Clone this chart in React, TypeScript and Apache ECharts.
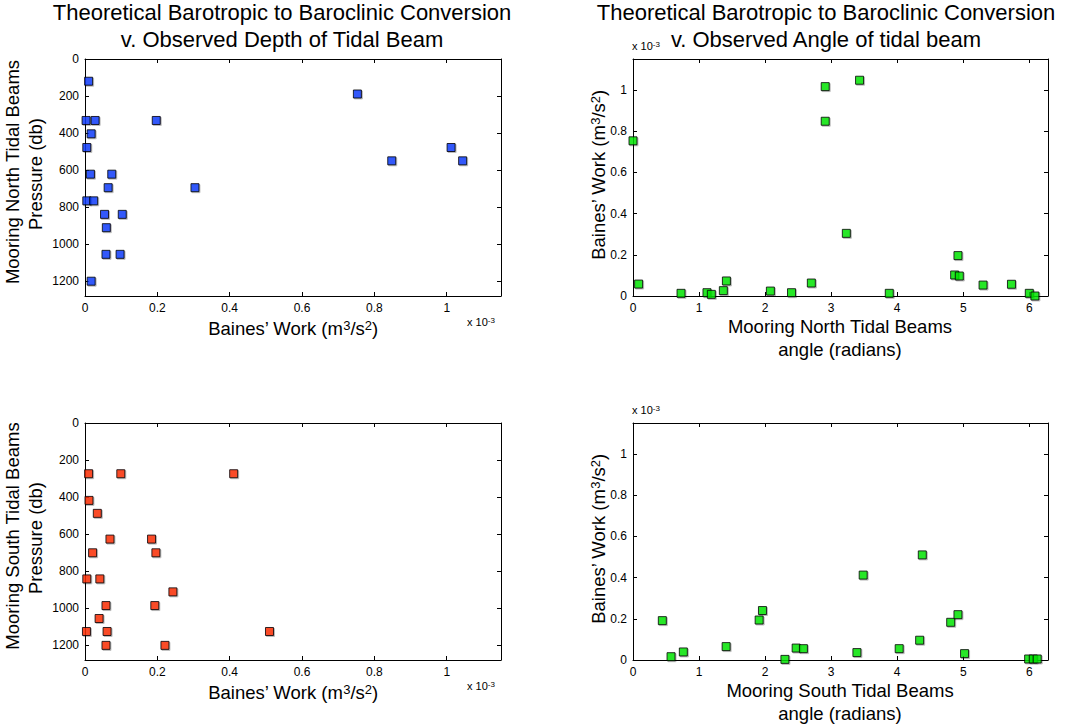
import React, { useEffect, useRef } from "react";
import * as echarts from "echarts";

// Mooring North: Baines' work (x 1e-3 m^3/s^2) vs pressure (db)
const northDepthWork = [0.010, 0.003, 0.028, 0.197, 0.017, 0.005, 0.015, 0.074, 0.064, 0.304, 0.005, 0.024, 0.054, 0.103, 0.059, 0.058, 0.097, 0.017, 0.753, 1.012, 0.848, 1.044];
const northDepth = [120, 332, 332, 332, 404, 478, 622, 622, 695, 695, 766, 766, 839, 839, 911, 1055, 1055, 1200, 189, 478, 550, 550];

// Mooring North: beam angle (radians) vs Baines' work (x 1e-3)
const northAngle = [0.0, 0.085, 0.727, 1.12, 1.186, 1.368, 1.414, 2.08, 2.40, 2.70, 2.91, 2.91, 3.23, 3.43, 3.88, 4.92, 4.87, 4.94, 5.30, 5.73, 6.0, 6.085];
const northAngleWork = [0.753, 0.058, 0.013, 0.016, 0.008, 0.026, 0.073, 0.024, 0.016, 0.063, 1.016, 0.848, 0.304, 1.047, 0.013, 0.196, 0.102, 0.097, 0.053, 0.057, 0.013, 0.0];

// Mooring South: Baines' work (x 1e-3) vs pressure (db)
const southDepthWork = [0.010, 0.099, 0.411, 0.011, 0.034, 0.069, 0.184, 0.021, 0.196, 0.005, 0.041, 0.243, 0.058, 0.193, 0.039, 0.004, 0.061, 0.510, 0.058, 0.221];
const southDepth = [274, 274, 274, 418, 488, 627, 627, 701, 701, 842, 842, 912, 986, 986, 1056, 1126, 1126, 1126, 1201, 1201];

// Mooring South: beam angle (radians) vs Baines' work (x 1e-3)
const southAngle = [0.444, 0.576, 0.762, 1.41, 1.91, 1.96, 2.30, 2.47, 2.58, 3.39, 3.485, 4.38, 4.34, 4.03, 4.81, 4.92, 5.02, 5.99, 6.06, 6.12];
const southAngleWork = [0.191, 0.016, 0.039, 0.065, 0.194, 0.240, 0.003, 0.058, 0.055, 0.036, 0.412, 0.510, 0.096, 0.055, 0.183, 0.220, 0.031, 0.005, 0.005, 0.005];

const workTicks = { min: 0, max: 1.15, interval: 0.2 };
const depthTicks = { min: 0, max: 1280, interval: 200 };
const angleTicks = { min: 0, max: 2 * Math.PI, interval: 1 };

const titleLeft = ["Theoretical Barotropic to Baroclinic Conversion", "v. Observed Depth of Tidal Beam"];
const titleRight = ["Theoretical Barotropic to Baroclinic Conversion", "v. Observed Angle of tidal beam"];

const FONT = "'Liberation Sans', Arial, Helvetica, sans-serif";

const fmt = (v: number) => String(+Number(v).toFixed(4));

function axis(gridIndex: number, position: string, t: any, showLabels: boolean, inverse = false) {
  return {
    type: "value",
    gridIndex,
    position,
    min: t.min,
    max: t.max,
    interval: t.interval,
    inverse,
    axisLine: { show: true, onZero: false, lineStyle: { color: "#000", width: 1 } },
    axisTick: { show: true, inside: true, length: 4, lineStyle: { color: "#000", width: 1 } },
    axisLabel: {
      show: showLabels,
      color: "#000",
      fontSize: 12,
      fontFamily: FONT,
      margin: 6,
      showMaxLabel: false,
      formatter: fmt,
    },
    splitLine: { show: false },
  };
}

function textEl(text: string, x: number, y: number, fontSize: number, rotate = false, align = "center") {
  return {
    type: "text",
    x,
    y,
    rotation: rotate ? Math.PI / 2 : 0,
    silent: true,
    style: {
      text,
      fill: "#000",
      fontSize,
      fontFamily: FONT,
      align,
      verticalAlign: "middle",
      textAlign: align,
      textVerticalAlign: "middle",
      rich: {
        n: { fontSize, fontFamily: FONT, fill: "#000", verticalAlign: "bottom" },
        sup: { fontSize: Math.round(fontSize * 0.72), fontFamily: FONT, fill: "#000", verticalAlign: "top" },
      },
    },
  };
}

const bainesLabel = "{n|Baines\u2019 Work (m}{sup|3}{n|/s}{sup|2}{n|)}";
const expLabel = "{n|x 10}{sup|-3}";

function scatter(xi: number, xs: number[], ys: number[], color: string) {
  return {
    type: "scatter",
    xAxisIndex: xi,
    yAxisIndex: xi,
    clip: false,
    symbol: "rect",
    symbolSize: 8,
    data: xs.map((x, i) => [x, ys[i]]),
    itemStyle: {
      color,
      borderColor: "#000",
      borderWidth: 1,
      shadowColor: "rgba(0,0,0,0.3)",
      shadowBlur: 1,
      shadowOffsetX: 1,
      shadowOffsetY: 1,
    },
    emphasis: { disabled: true },
  };
}

export default function App() {
  const ref = useRef<HTMLDivElement>(null);
  useEffect(() => {
    const chart = echarts.init(ref.current!, null, { renderer: "svg" });
    const grids = [
      { left: 85, top: 59, width: 416, height: 237 },
      { left: 633, top: 59, width: 415, height: 237 },
      { left: 85, top: 423, width: 416, height: 237 },
      { left: 633, top: 423, width: 415, height: 237 },
    ];
    const xAxis = [
      axis(0, "bottom", workTicks, true), axis(0, "top", workTicks, false),
      axis(1, "bottom", angleTicks, true), axis(1, "top", angleTicks, false),
      axis(2, "bottom", workTicks, true), axis(2, "top", workTicks, false),
      axis(3, "bottom", angleTicks, true), axis(3, "top", angleTicks, false),
    ];
    const yAxis = [
      axis(0, "left", depthTicks, true, true), axis(0, "right", depthTicks, false, true),
      axis(1, "left", workTicks, true), axis(1, "right", workTicks, false),
      axis(2, "left", depthTicks, true, true), axis(2, "right", depthTicks, false, true),
      axis(3, "left", workTicks, true), axis(3, "right", workTicks, false),
    ];
    const graphic = [
      textEl(titleLeft[0], 282, 12, 22),
      textEl(titleLeft[1], 282, 39, 22),
      textEl(titleRight[0], 826, 12, 22),
      textEl(titleRight[1], 826, 39, 22),
      // left panels y names
      textEl("Mooring North Tidal Beams", 12, 172, 18.5, true),
      textEl("Pressure (db)", 35, 174, 18.5, true),
      textEl("Mooring South Tidal Beams", 12, 536, 18.5, true),
      textEl("Pressure (db)", 35, 538, 18.5, true),
      // right panels y names
      textEl(bainesLabel, 598, 175, 18.5, true),
      textEl(bainesLabel, 598, 539, 18.5, true),
      // left panels x names
      textEl(bainesLabel, 293, 328, 18.5),
      textEl(bainesLabel, 293, 692, 18.5),
      // right panels x names
      textEl("Mooring North Tidal Beams", 840, 326, 18.5),
      textEl("angle (radians)", 840, 349, 18.5),
      textEl("Mooring South Tidal Beams", 840, 690, 18.5),
      textEl("angle (radians)", 840, 713, 18.5),
      // exponent labels
      textEl(expLabel, 467, 322, 11, false, "left"),
      textEl(expLabel, 467, 686, 11, false, "left"),
      textEl(expLabel, 632, 46, 11, false, "left"),
      textEl(expLabel, 632, 410, 11, false, "left"),
    ];
    chart.setOption({
      animation: false,
      backgroundColor: "#fff",
      grid: grids,
      xAxis,
      yAxis,
      graphic,
      series: [
        scatter(0, northDepthWork, northDepth, "#0a3cff"),
        scatter(2, northAngle, northAngleWork, "#00e800"),
        scatter(4, southDepthWork, southDepth, "#ff2a00"),
        scatter(6, southAngle, southAngleWork, "#00e800"),
      ],
    });
    return () => chart.dispose();
  }, []);
  return (
    <div
      ref={ref}
      style={{ position: "absolute", left: 0, top: 0, width: 1087, height: 725, background: "#fff" }}
    />
  );
}
